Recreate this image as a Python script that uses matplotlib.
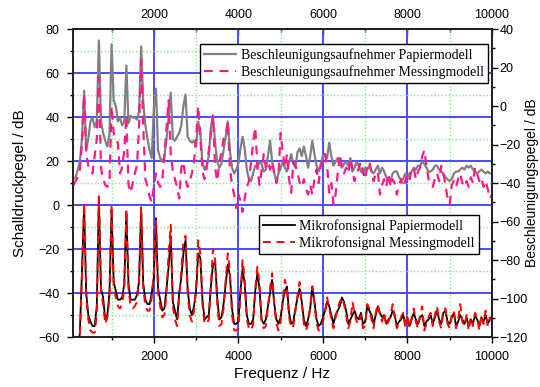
import numpy as np
import matplotlib
matplotlib.use("Agg")
import matplotlib.pyplot as plt
from matplotlib.ticker import MultipleLocator

# frequency grid, 50 Hz steps
freq = np.arange(100, 10051, 50)

# Beschleunigungspegel (right axis, dB)
acc_papier = [
    -38, -37, -33, -29, -17, 8, -23, -17, -8, -6,
    -11, -8, 34, -8, -14, -18, -21, -15, 32, 3,
    0, -8, -6, -10, -8, 21, -9, -5, -6, -6,
    -7, -3, 31, 2, -10, -17, -23, -27, -1, 9,
    -23, -27, -29, -26, -17, -6, 7, -17, -18, -16,
    -14, -10, 0, 6, -16, -18, -19, -18, -21, -8,
    -14, -29, -33, -31, -26, -11, -5, -19, -29, -32,
    -30, -23, -16, -8, -23, -32, -35, -33, -30, -22,
    -16, -22, -33, -38, -39, -35, -31, -32, -29, -30,
    -34, -33, -26, -18, -29, -35, -39, -35, -32, -29,
    -32, -34, -29, -25, -30, -32, -24, -22, -26, -21,
    -26, -32, -26, -18, -25, -31, -34, -30, -26, -25,
    -27, -19, -26, -31, -29, -27, -30, -32, -30, -29,
    -31, -27, -34, -32, -29, -31, -34, -35, -32, -33,
    -31, -34, -35, -33, -31, -35, -32, -34, -37, -38,
    -39, -35, -34, -34, -37, -38, -38, -35, -37, -35,
    -34, -32, -33, -31, -31, -29, -30, -32, -34, -34,
    -33, -31, -31, -33, -34, -35, -37, -38, -39, -38,
    -35, -34, -34, -33, -32, -33, -31, -32, -31, -33,
    -34, -35, -34, -33, -34, -35, -34, -35, -35, -35,
]
acc_messing = [
    -41, -39, -37, -33, -19, 6, -25, -31, -34, -35,
    -26, -17, 15, -32, -38, -41, -42, -40, 0, -14,
    -18, -19, -35, -32, -23, -5, -41, -45, -40, -35,
    -31, -11, 24, -11, -38, -42, -47, -50, -42, -35,
    -40, -42, -38, -26, -11, 3, -25, -34, -38, -42,
    -48, -32, -29, -38, -42, -39, -35, -29, -17, 0,
    -16, -34, -38, -32, -23, -14, -5, -32, -39, -29,
    -24, -17, -15, -8, -32, -41, -46, -53, -46, -49,
    -55, -48, -42, -39, -29, -19, -11, -32, -41, -34,
    -25, -32, -29, -33, -29, -35, -40, -35, -14, -24,
    -32, -25, -38, -45, -29, -31, -34, -40, -42, -38,
    -43, -46, -41, -46, -38, -33, -40, -31, -29, -25,
    -31, -45, -40, -51, -46, -35, -25, -31, -35, -32,
    -35, -27, -33, -39, -35, -32, -29, -34, -38, -31,
    -29, -34, -39, -35, -34, -46, -41, -38, -42, -35,
    -42, -38, -40, -46, -41, -38, -42, -39, -35, -38,
    -33, -32, -38, -34, -32, -26, -23, -31, -38, -40,
    -42, -38, -35, -39, -31, -35, -41, -48, -51, -41,
    -39, -42, -38, -35, -40, -42, -39, -42, -37, -40,
    -32, -35, -39, -37, -42, -39, -43, -48, -46, -46,
]

# Schalldruckpegel (left axis, dB)
mic_papier = [
    -70, -70, -66, -58, -30, 0, -40, -50, -53, -55,
    -55, -46, 3, -38, -42, -52, -50, -40, -2, -35,
    -39, -43, -43, -42, -36, -3, -36, -43, -43, -43,
    -41, -35, -2, -36, -43, -45, -45, -40, -33, -6,
    -38, -43, -48, -47, -38, -28, -14, -44, -48, -52,
    -40, -33, -22, -16, -38, -47, -50, -46, -39, -22,
    -24, -43, -52, -51, -50, -37, -27, -26, -42, -52,
    -51, -45, -36, -27, -32, -47, -54, -54, -53, -39,
    -29, -36, -50, -54, -54, -52, -39, -31, -38, -52,
    -54, -52, -46, -40, -34, -45, -52, -54, -51, -44,
    -39, -37, -49, -54, -53, -47, -42, -38, -44, -52,
    -55, -52, -47, -37, -44, -52, -55, -54, -51, -48,
    -44, -46, -50, -54, -50, -48, -46, -42, -44, -48,
    -54, -52, -50, -48, -51, -52, -49, -54, -53, -46,
    -48, -50, -54, -50, -46, -49, -51, -50, -54, -52,
    -51, -48, -50, -55, -53, -52, -50, -54, -51, -55,
    -52, -49, -52, -54, -51, -50, -55, -53, -52, -50,
    -54, -51, -48, -52, -54, -49, -48, -53, -54, -51,
    -49, -55, -53, -50, -52, -54, -51, -55, -52, -54,
    -50, -52, -55, -51, -53, -50, -54, -52, -51, -52,
]
mic_messing = [
    -70, -70, -66, -60, -32, 1, -42, -52, -57, -58,
    -58, -50, 4, -40, -45, -54, -51, -42, 0, -37,
    -42, -46, -47, -45, -38, -2, -38, -46, -47, -46,
    -44, -34, -1, -38, -46, -48, -48, -42, -30, -7,
    -40, -46, -51, -50, -40, -22, -9, -46, -52, -55,
    -42, -30, -16, -14, -40, -50, -53, -48, -38, -16,
    -22, -45, -54, -54, -52, -36, -20, -25, -45, -55,
    -54, -47, -34, -22, -30, -50, -57, -57, -56, -40,
    -25, -34, -52, -56, -57, -54, -38, -28, -36, -54,
    -56, -55, -46, -38, -31, -46, -54, -57, -53, -44,
    -34, -38, -51, -56, -55, -48, -41, -35, -45, -54,
    -57, -54, -46, -37, -45, -54, -57, -56, -53, -49,
    -42, -47, -52, -56, -51, -47, -44, -42, -45, -50,
    -56, -53, -44, -49, -53, -54, -50, -56, -55, -45,
    -47, -52, -56, -49, -45, -50, -53, -49, -55, -53,
    -50, -45, -51, -56, -54, -51, -49, -56, -50, -56,
    -51, -47, -53, -56, -50, -46, -57, -54, -51, -49,
    -55, -50, -46, -53, -56, -48, -47, -54, -56, -50,
    -48, -56, -52, -45, -53, -55, -50, -57, -51, -55,
    -49, -51, -57, -50, -54, -48, -55, -51, -53, -52,
]

sans = "Liberation Sans"
serif = "Liberation Serif"
blue = "#4a4aff"
green = "#7fef7f"

fig = plt.figure(figsize=(5.4, 3.87), dpi=100)
ax = fig.add_axes([0.135, 0.129, 0.776, 0.796])
ax2 = ax.twinx()

# grid on the left axis
ax.set_axisbelow(True)
ax.xaxis.set_major_locator(MultipleLocator(2000))
ax.xaxis.set_minor_locator(MultipleLocator(1000))
ax.yaxis.set_major_locator(MultipleLocator(20))
ax.yaxis.set_minor_locator(MultipleLocator(10))
ax.grid(which="major", color=blue, lw=1.4)
ax.grid(which="minor", color=green, lw=1.0, ls=(0, (1, 1.5)))

l3, = ax.plot(freq, mic_papier, color="black", lw=1.3)
l4, = ax.plot(freq, mic_messing, color="#ff0000", lw=1.4, ls=(0, (4, 3)))

l1, = ax2.plot(freq, acc_papier, color="#808080", lw=1.6)
l2, = ax2.plot(freq, acc_messing, color="#ff1a8c", lw=1.6, ls=(0, (4, 3)))

ax.set_xlim(85, 10000)
ax.set_ylim(-60, 80)
ax2.set_ylim(-120, 40)
ax2.yaxis.set_major_locator(MultipleLocator(20))
ax2.yaxis.set_minor_locator(MultipleLocator(10))

for a in (ax, ax2):
    for s in a.spines.values():
        s.set_linewidth(1.3)
        s.set_color("#222222")
    a.tick_params(which="major", direction="out", length=4, width=1, labelsize=9)
    a.tick_params(which="minor", direction="out", length=2.5, width=1)
    for lab in a.get_xticklabels() + a.get_yticklabels():
        lab.set_fontfamily(sans)
ax.tick_params(axis="y", which="major", pad=5.5)
ax.tick_params(axis="x", which="major", pad=6)
ax2.tick_params(axis="y", which="major", pad=1.5)

ax.set_xticks([2000, 4000, 6000, 8000, 10000])
ax.set_xticklabels(["2000", "4000", "6000", "8000", "10000"], fontfamily=sans, fontsize=9)

top = ax.secondary_xaxis("top")
top.set_xticks([2000, 4000, 6000, 8000, 10000])
top.set_xticklabels(["2000", "4000", "6000", "8000", "10000"], fontfamily=sans, fontsize=9)
top.xaxis.set_minor_locator(MultipleLocator(1000))
top.tick_params(which="major", direction="in", length=4, width=1, pad=6)
top.tick_params(which="minor", direction="in", length=2.5, width=1)
top.spines["top"].set_linewidth(1.3)

ax.set_xlabel("Frequenz / Hz", fontfamily=sans, fontsize=11, labelpad=3)
ax.set_ylabel("Schalldruckpegel / dB", fontfamily=sans, fontsize=11, labelpad=8)
ax2.set_ylabel("Beschleunigungspegel / dB", fontfamily=sans, fontsize=10)
ax2.yaxis.set_label_coords(1.079, 0.5)

leg_kw = dict(prop={"family": serif, "size": 10}, frameon=True, fancybox=False,
              edgecolor="black", framealpha=1, handlelength=2.3, handletextpad=0.3,
              borderpad=0.3, labelspacing=0.2, borderaxespad=0)
leg1 = ax2.legend([l1, l2], ["Beschleunigungsaufnehmer Papiermodell",
                             "Beschleunigungsaufnehmer Messingmodell"],
                  loc="upper right", bbox_to_anchor=(0.99, 0.951), **leg_kw)
leg1.get_frame().set_linewidth(1.0)
ax2.add_artist(leg1)
leg2 = ax2.legend([l3, l4], ["Mikrofonsignal Papiermodell",
                             "Mikrofonsignal Messingmodell"],
                  loc="upper right", bbox_to_anchor=(0.969, 0.396), **leg_kw)
leg2.get_frame().set_linewidth(1.0)

fig.savefig("out.png", dpi=100)
